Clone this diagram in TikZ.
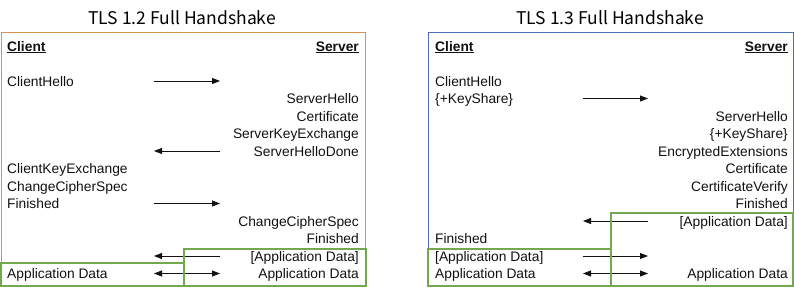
\documentclass[tikz,border=0pt]{standalone}
\usepackage{fontspec}
\setmainfont{Liberation Sans}
\newfontfamily\headfont{Noto Sans CJK KR}
\usetikzlibrary{arrows.meta}
\definecolor{tlsorange}{HTML}{D8924E}
\definecolor{tlsblue}{HTML}{4B6FB8}
\definecolor{appgreen}{HTML}{72A84E}
\definecolor{ink}{HTML}{111111}

\begin{document}
\begin{tikzpicture}[x=1pt,y=-1pt,
  msg/.style={font=\fontsize{13.8}{16}\selectfont,color=ink,inner sep=0pt},
  title/.style={font=\headfont\fontsize{17.5}{20}\selectfont,inner sep=0pt,anchor=base},
  toserver/.style={-{Triangle[length=8pt,width=6pt]},line width=0.8pt,ink},
  toclient/.style={{Triangle[length=8pt,width=6pt]}-,line width=0.8pt,ink},
  twoway/.style={{Triangle[length=8pt,width=6pt]}-{Triangle[length=8pt,width=6pt]},line width=0.8pt,ink},
  appbox/.style={draw=appgreen,line width=1.1pt}]
  \useasboundingbox (0,0) rectangle (794,287);

  % TLS 1.2
  \node[title] (t12) at (182,24) {TLS 1.2 Full Handshake};
  \draw[tlsorange,line width=1pt] (1,32) rectangle (365.5,286);
  \node[msg,anchor=base west] (cli12) at (7,51) {\underline{\textbf{Client}}};
  \node[msg,anchor=base east] (srv12) at (359,51) {\underline{\textbf{Server}}};
  \foreach \r/\txt in {0/ClientHello,5/ClientKeyExchange,6/ChangeCipherSpec,7/Finished,11/Application Data}
    \node[msg,anchor=base west] (c12-\r) at (7,{86+17.5*\r}) {\txt};
  \foreach \r/\txt in {1/ServerHello,2/Certificate,3/ServerKeyExchange,4/ServerHelloDone,
                       8/ChangeCipherSpec,9/Finished,10/{[Application Data]},11/Application Data}
    \node[msg,anchor=base east] (s12-\r) at (359,{86+17.5*\r}) {\txt};
  \foreach \r/\dir in {0/toserver,4/toclient,7/toserver,10/toclient,11/twoway} {
    \coordinate (a12-\r) at (154,{81+17.5*\r});
    \coordinate (b12-\r) at (220,{81+17.5*\r});
    \draw[\dir] (a12-\r) -- (b12-\r);
  }
  \draw[appbox] (1,263) rectangle (184,286);
  \draw[appbox] (184,249) rectangle (366,286);

  % TLS 1.3
  \node[title] (t13) at (610,24) {TLS 1.3 Full Handshake};
  \draw[tlsblue,line width=1pt] (428,32) rectangle (793,286);
  \node[msg,anchor=base west] (cli13) at (435,51) {\underline{\textbf{Client}}};
  \node[msg,anchor=base east] (srv13) at (788,51) {\underline{\textbf{Server}}};
  \foreach \r/\txt in {0/ClientHello,1/\{+KeyShare\},9/Finished,10/{[Application Data]},11/Application Data}
    \node[msg,anchor=base west] (c13-\r) at (435,{86+17.5*\r}) {\txt};
  \foreach \r/\txt in {2/ServerHello,3/\{+KeyShare\},4/EncryptedExtensions,5/Certificate,
                       6/CertificateVerify,7/Finished,8/{[Application Data]},11/Application Data}
    \node[msg,anchor=base east] (s13-\r) at (788,{86+17.5*\r}) {\txt};
  \foreach \r/\dir in {1/toserver,8/toclient,10/toserver,11/twoway} {
    \coordinate (a13-\r) at (583,{81+17.5*\r});
    \coordinate (b13-\r) at (648,{81+17.5*\r});
    \draw[\dir] (a13-\r) -- (b13-\r);
  }
  \draw[appbox] (428,249) rectangle (611,286);
  \draw[appbox] (611,213) rectangle (793,286);
\end{tikzpicture}
\end{document}
